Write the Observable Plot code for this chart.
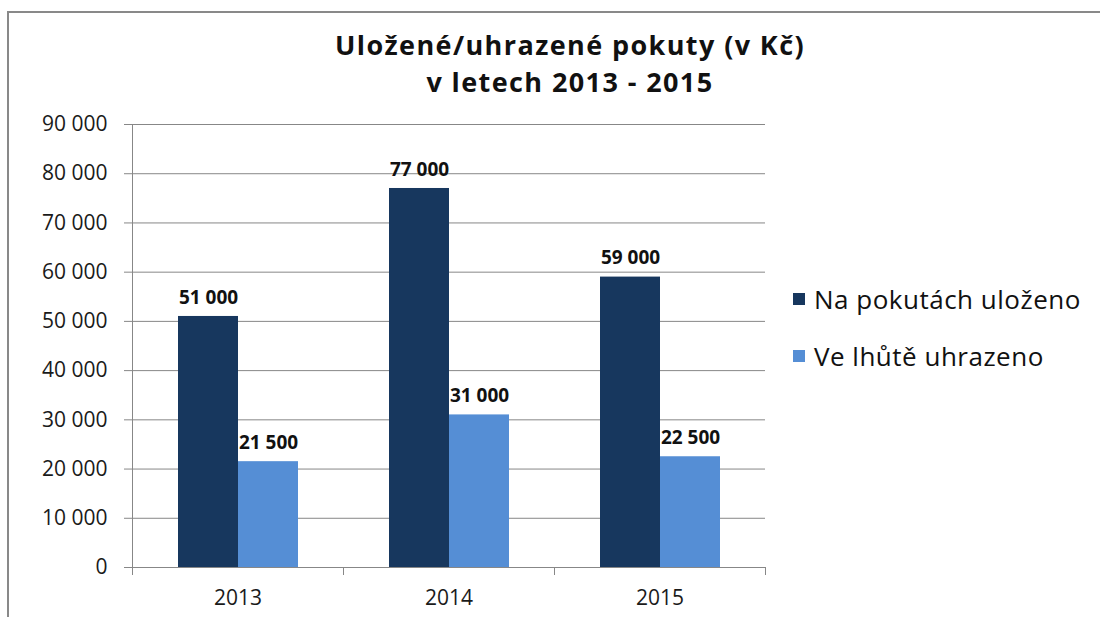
<!DOCTYPE html>
<html>
<head>
<meta charset="utf-8">
<script src="https://cdn.jsdelivr.net/npm/d3@7"></script>
<script src="https://cdn.jsdelivr.net/npm/@observablehq/plot@0.6"></script>
<style>
  html, body { margin: 0; padding: 0; background: #fff; }
  #wrap { position: relative; width: 1100px; height: 617px; overflow: hidden; font-family: "Open Sans", Lato, sans-serif; color: #1a1a1a; }
  #border { position: absolute; left: 7px; top: 11px; width: 1200px; height: 700px; border: 2px solid #898989; }
  #chart { position: absolute; left: 0; top: 0; }
  .ttl { position: absolute; left: 220px; width: 700px; text-align: center; font-weight: bold; font-size: 27px; letter-spacing: 1.4px; line-height: 37px; height: 37px; color: #111; white-space: nowrap; }
  .leg { position: absolute; left: 793px; display: flex; align-items: center; font-size: 26px; letter-spacing: 0.5px; color: #111; white-space: nowrap; }
  .sw { width: 12px; height: 12px; margin-right: 9px; }
</style>
</head>
<body>
<div id="wrap">
  <div id="border"></div>
  <div id="chart"></div>
  <div class="ttl" style="top:26px">Uložené/uhrazené pokuty (v Kč)</div>
  <div class="ttl" style="top:63px">v letech 2013 - 2015</div>
  <div id="legend"></div>
</div>
<script>
const years = ["2013", "2014", "2015"];
const seriesNames = ["Na pokutách uloženo", "Ve lhůtě uhrazeno"];
const imposed = [51000, 77000, 59000];
const paid = [21500, 31000, 22500];
const yTicks = [0, 10000, 20000, 30000, 40000, 50000, 60000, 70000, 80000, 90000];
const seriesColors = ["#17375E", "#558ED5"];

const locale = d3.formatLocale({decimal: ",", thousands: "\u00a0", grouping: [3], currency: ["", " Kč"]});
const fmt = locale.format(",");

const table = [];
years.forEach((yr, i) => {
  table.push({year: yr, series: seriesNames[0], value: imposed[i]});
  table.push({year: yr, series: seriesNames[1], value: paid[i]});
});

const W = 1100, H = 617, mL = 132, mR = 335, mT = 124, mB = 50;
const band = (W - mL - mR) / years.length;

const chart = Plot.plot({
  width: W, height: H,
  marginTop: mT, marginBottom: mB, marginLeft: mL, marginRight: mR,
  style: {fontFamily: "'Open Sans', Lato, sans-serif", background: "transparent", color: "#1a1a1a"},
  fx: {domain: years, padding: 0, label: null, axis: null},
  x: {domain: seriesNames, paddingInner: 0, paddingOuter: 0.758, axis: null},
  y: {domain: [0, 90000], axis: null},
  color: {domain: seriesNames, range: seriesColors},
  marks: [
    Plot.ruleY(yTicks, {stroke: "#878787", strokeWidth: 1}),
    Plot.barY(table, {fx: "year", x: "series", y: "value", fill: "series", inset: 0}),
    Plot.text(table, {fx: "year", x: "series", y: "value", text: d => fmt(d.value), dy: -19, fontWeight: "bold", fontSize: 19, fill: "#111"}),
    Plot.frame({anchor: "left", stroke: "#878787", facetAnchor: "left"}),
    Plot.axisY({ticks: yTicks, tickFormat: fmt, tickSize: 8, tickPadding: 17, fontSize: 21, stroke: "#878787", label: null}),
    Plot.axisFx({anchor: "bottom", tickSize: 0, tickPadding: 23, fontSize: 21, label: null}),
    Plot.axisFx({anchor: "bottom", tickSize: 8, tickFormat: () => "", dx: -band / 2, stroke: "#878787", label: null}),
    Plot.axisFx({anchor: "bottom", ticks: [years[years.length - 1]], tickSize: 8, tickFormat: () => "", dx: band / 2, stroke: "#878787", label: null})
  ]
});
document.getElementById("chart").appendChild(chart);

const legend = document.getElementById("legend");
const legendTops = [281, 338];
seriesNames.forEach((name, i) => {
  const row = document.createElement("div");
  row.className = "leg";
  row.style.top = legendTops[i] + "px";
  const sw = document.createElement("div");
  sw.className = "sw";
  sw.style.background = seriesColors[i];
  const t = document.createElement("span");
  t.textContent = name;
  row.appendChild(sw);
  row.appendChild(t);
  legend.appendChild(row);
});
</script>
</body>
</html>
